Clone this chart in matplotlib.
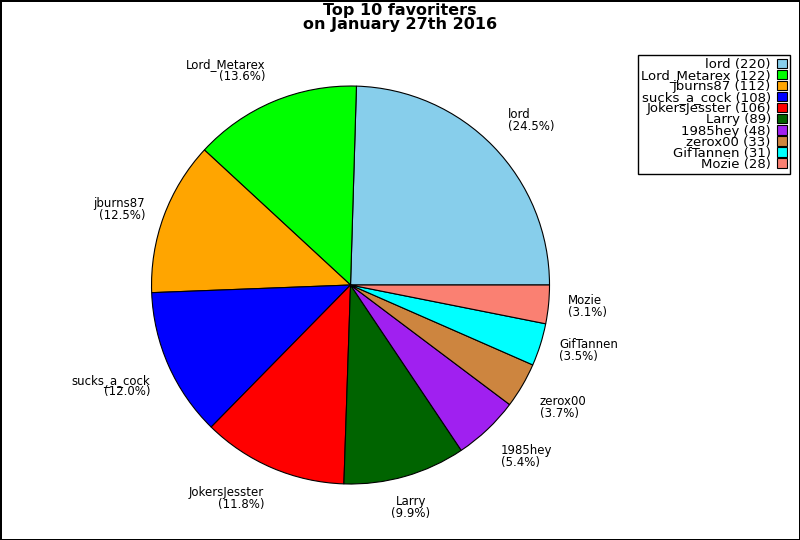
import matplotlib
matplotlib.use("Agg")
import matplotlib.pyplot as plt
import numpy as np

names = ["lord", "Lord_Metarex", "jburns87", "sucks_a_cock", "JokersJesster",
         "Larry", "1985hey", "zerox00", "GifTannen", "Mozie"]
counts = [220, 122, 112, 108, 106, 89, 48, 33, 31, 28]
colors = ["#87ceeb", "#00ff00", "#ffa500", "#0000ff", "#ff0000",
          "#006400", "#a020f0", "#cd853f", "#00ffff", "#fa8072"]

total = sum(counts)
labels = ["%s\n(%.1f%%)" % (n, 100.0 * c / total) for n, c in zip(names, counts)]
legend_labels = ["%s (%d)" % (n, c) for n, c in zip(names, counts)]

fig = plt.figure(figsize=(8, 5.4), dpi=100, facecolor="white",
                 edgecolor="black", linewidth=1)
ax = fig.add_axes([0.1894, 0.1037, 0.4975, 0.737])

wedges, texts = ax.pie(counts, labels=labels, colors=colors, startangle=0,
                       counterclock=True, labeldistance=1.1,
                       wedgeprops=dict(edgecolor="black", linewidth=0.8),
                       textprops=dict(fontsize=8.5, linespacing=0.88))
ax.set_xlim(-1, 1)
ax.set_ylim(-1, 1)
ax.set_aspect("equal")

# align labels depending on where they sit around the pie
for w, t in zip(wedges, texts):
    mid = np.deg2rad((w.theta1 + w.theta2) / 2.0)
    c, s = np.cos(mid), np.sin(mid)
    if c > 0.3:
        t.set_ha("left")
    elif c < -0.3:
        t.set_ha("right")
    else:
        t.set_ha("center")
    if s > 0.375:
        t.set_va("bottom")
    elif s < -0.375:
        t.set_va("top")
    else:
        t.set_va("center")

fig.suptitle("Top 10 favoriters\non January 27th 2016", fontsize=11.5,
             fontweight="bold", y=0.995, linespacing=0.95)

leg = fig.legend(wedges, legend_labels, loc="upper right",
                 bbox_to_anchor=(0.9875, 0.898), fontsize=9.5,
                 markerfirst=False, fancybox=False, framealpha=1,
                 edgecolor="black", labelspacing=-0.15, handlelength=0.7,
                 handleheight=0.7, handletextpad=0.5, borderpad=0.25,
                 borderaxespad=0)
leg.get_frame().set_linewidth(1)
for t in leg.get_texts():
    t.set_ha("right")

fig.savefig("out.png", dpi=100, facecolor="white", edgecolor="black")
